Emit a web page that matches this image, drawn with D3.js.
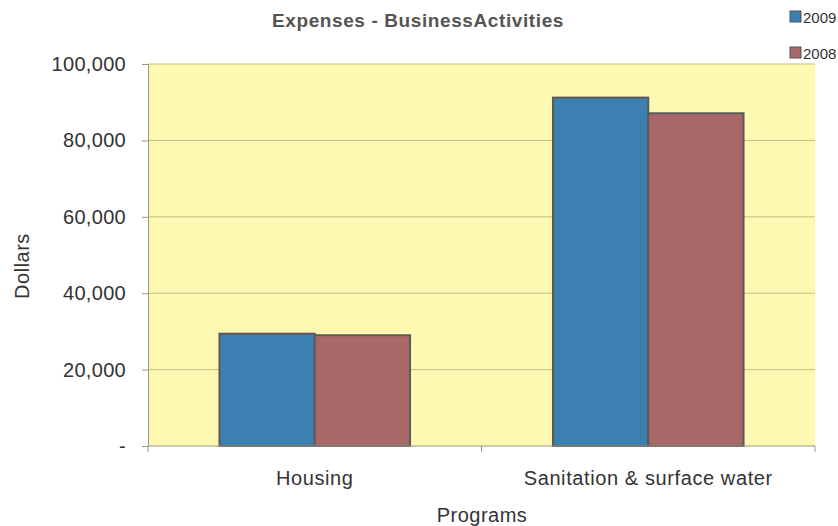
<!DOCTYPE html>
<html><head><meta charset="utf-8">
<script src="https://cdn.jsdelivr.net/npm/d3@7"></script>
<style>body{margin:0;background:#fff;} text{font-family:"Liberation Sans",Arial,sans-serif;}</style>
</head><body>
<svg id="c" width="838" height="526"></svg>
<script>
const categories = ["Housing", "Sanitation & surface water"];
const seriesNames = ["2009", "2008"];
const values2009 = [29400, 91200];
const values2008 = [29000, 87100];
const yTicks = [0, 20000, 40000, 60000, 80000, 100000];
const colors = ["#3b80b1", "#a86868"];

const svg = d3.select("#c");
const m = {l:148, r:815, t:64, b:446};
const x = d3.scaleBand().domain(categories).range([m.l, m.r]).paddingInner(0).paddingOuter(0);
const xs = d3.scaleBand().domain(seriesNames).range([0, x.bandwidth()]).paddingInner(0).paddingOuter(0.75);
const y = d3.scaleLinear().domain([0, 100000]).range([m.b, m.t]);

svg.append("rect").attr("x", m.l).attr("y", m.t).attr("width", m.r - m.l).attr("height", m.b - m.t).attr("fill", "#fef8b3");

// gridlines
svg.append("g").selectAll("line").data(yTicks.filter(d => d > 0)).join("line")
  .attr("x1", m.l).attr("x2", m.r).attr("y1", d => y(d)).attr("y2", d => y(d))
  .attr("stroke", "#c9bd85").attr("stroke-width", 1);

// y axis
const yAxis = d3.axisLeft(y).tickValues(yTicks).tickSize(6).tickPadding(16)
  .tickFormat(d => d === 0 ? "-" : d3.format(",")(d));
const gy = svg.append("g").attr("transform", `translate(${m.l},0)`).call(yAxis);
gy.select(".domain").attr("stroke", "#9a9a80");
gy.selectAll(".tick line").attr("stroke", "#9a9a80");
gy.selectAll("text").attr("font-size", 20).attr("fill", "#333").attr("letter-spacing", 0.3);

// bars
const data = categories.map((c, i) => ({c, v: [values2009[i], values2008[i]]}));
const g = svg.append("g");
data.forEach(d => {
  seriesNames.forEach((s, j) => {
    g.append("rect")
      .attr("x", x(d.c) + xs(s)).attr("y", y(d.v[j]))
      .attr("width", xs.bandwidth()).attr("height", y(0) - y(d.v[j]))
      .attr("fill", colors[j]).attr("stroke", "#5a5a5a").attr("stroke-width", 2);
  });
});

// x axis
const gx = svg.append("g").attr("transform", `translate(0,${m.b})`);
gx.append("line").attr("x1", m.l).attr("x2", m.r).attr("stroke", "#9a9a80");
[m.l, x(categories[1]), m.r].forEach(px => {
  gx.append("line").attr("x1", px).attr("x2", px).attr("y1", 0).attr("y2", 6).attr("stroke", "#9a9a80");
});
gx.selectAll("text.cat").data(categories).join("text").attr("class", "cat")
  .attr("x", d => x(d) + x.bandwidth()/2).attr("y", 39)
  .attr("text-anchor", "middle").attr("font-size", 20).attr("letter-spacing", 0.6)
  .attr("fill", "#333").text(d => d);

// titles
svg.append("text").attr("x", 418).attr("y", 27).attr("text-anchor", "middle")
  .attr("font-size", 19).attr("font-weight", "bold").attr("letter-spacing", 0.6)
  .attr("fill", "#555").text("Expenses - BusinessActivities");
svg.append("text").attr("x", 482).attr("y", 522).attr("text-anchor", "middle")
  .attr("font-size", 20).attr("letter-spacing", 0.5).attr("fill", "#333").text("Programs");
svg.append("text").attr("transform", "translate(29,266) rotate(-90)").attr("text-anchor", "middle")
  .attr("font-size", 20).attr("letter-spacing", 0.5).attr("fill", "#333").text("Dollars");

// legend
const lg = svg.append("g");
seriesNames.forEach((s, i) => {
  lg.append("rect").attr("x", 790).attr("y", 11 + i*36).attr("width", 11).attr("height", 11)
    .attr("fill", colors[i]).attr("stroke", "#555").attr("stroke-width", 1);
  lg.append("text").attr("x", 803).attr("y", 23 + i*36).attr("font-size", 15)
    .attr("fill", "#333").text(s);
});
</script>
</body></html>
